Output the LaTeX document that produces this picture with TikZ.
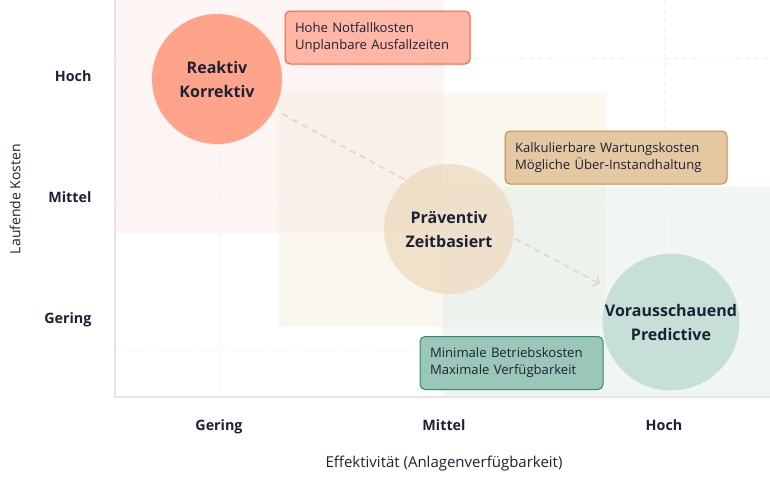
\documentclass[tikz,border=0pt]{standalone}
\usepackage{fontspec}
\setmainfont{Open Sans}
\usetikzlibrary{arrows.meta}

\definecolor{ink}{HTML}{1B2236}
\definecolor{axisgray}{HTML}{E6E6E6}
\definecolor{gridgray}{HTML}{F1F1F1}
\definecolor{redzone}{HTML}{FDF5F4}
\definecolor{beigezone}{HTML}{F3EBDD}
\definecolor{greenzone}{HTML}{E6F0EC}
\definecolor{reaktivfill}{HTML}{FFA48B}
\definecolor{praevfill}{HTML}{EEDDC4}
\definecolor{vorausfill}{HTML}{C6DFD7}
\definecolor{redboxfill}{HTML}{FFB6A4}
\definecolor{redboxline}{HTML}{FF5B3A}
\definecolor{tanboxfill}{HTML}{E4C8A1}
\definecolor{tanboxline}{HTML}{C68B3B}
\definecolor{greenboxfill}{HTML}{9BC7B9}
\definecolor{greenboxline}{HTML}{2F8B70}
\definecolor{trendgray}{HTML}{DCD5CD}

\begin{document}
\begin{tikzpicture}[x=1pt, y=-1pt,
    bubble/.style={circle, minimum size=130pt, inner sep=0pt, align=center, text=ink,
      font=\fontsize{16}{24}\selectfont\bfseries},
    notebox/.style={rounded corners=5pt, line width=1pt, align=left, text=ink,
      inner xsep=10pt, inner ysep=0pt, minimum height=53pt,
      font=\fontsize{13.1}{17}\selectfont},
    level/.style={text=ink, font=\fontsize{14.3}{16}\selectfont\bfseries},
    axistitle/.style={text=ink, font=\fontsize{14}{16}\selectfont}]
    \useasboundingbox (0,0) rectangle (770,477);

    % zones
    \fill[redzone] (115,0) rectangle (443,233);
    \fill[beigezone, opacity=0.45] (279,93) rectangle (606,327);
    \fill[greenzone, opacity=0.6] (443,187) rectangle (770,397);

    % grid
    \foreach \x in {220, 442, 664}{
      \draw[gridgray, dash pattern=on 5pt off 4pt] (\x, 0) -- (\x, 397);
    }
    \foreach \y in {58, 204, 350}{
      \draw[gridgray, dash pattern=on 5pt off 4pt] (115, \y) -- (770, \y);
    }

    % axes
    \draw[axisgray, line width=1.5pt] (115, 0) -- (115, 397) -- (770, 397);

    \node[level, anchor=base east] (yhoch) at (95, 81) {Hoch};
    \node[level, anchor=base east] (ymittel) at (95, 202) {Mittel};
    \node[level, anchor=base east] (ygering) at (95, 323) {Gering};
    \node[level, anchor=base] (xgering) at (219, 430) {Gering};
    \node[level, anchor=base] (xmittel) at (444, 430) {Mittel};
    \node[level, anchor=base] (xhoch) at (664, 430) {Hoch};
    \node[axistitle, rotate=90] (ytitle) at (15, 199) {Laufende Kosten};
    \node[axistitle, font=\fontsize{15}{16}\selectfont] (xtitle) at (444, 464) {Effektivität (Anlagenverfügbarkeit)};

    % strategies
    \node[bubble, fill=reaktivfill] (reaktiv) at (217, 79) {Reaktiv\\Korrektiv};
    \node[bubble, fill=vorausfill] (voraus) at (671, 322) {Vorausschauend\\Predictive};
    \draw[trendgray, line width=1.5pt, dash pattern=on 6pt off 5pt, shorten <=9pt, shorten >=12pt,
      -{Straight Barb[length=5pt, width=11pt]}] (reaktiv) -- (voraus);
    \node[bubble, fill=praevfill, fill opacity=0.85, text opacity=1] (praeventiv) at (449, 229) {Präventiv\\Zeitbasiert};

    % notes
    \node[notebox, fill=redboxfill, draw=redboxline, text width=165pt] (rednote) at (377.5, 37.5)
      {Hohe Notfallkosten\\Unplanbare Ausfallzeiten};
    \node[notebox, fill=tanboxfill, draw=tanboxline, text width=202pt] (tannote) at (616, 157.5)
      {Kalkulierbare Wartungskosten\\Mögliche Über-Instandhaltung};
    \node[notebox, fill=greenboxfill, draw=greenboxline, text width=163pt] (greennote) at (511.5, 363)
      {Minimale Betriebskosten\\Maximale Verfügbarkeit};
\end{tikzpicture}
\end{document}
